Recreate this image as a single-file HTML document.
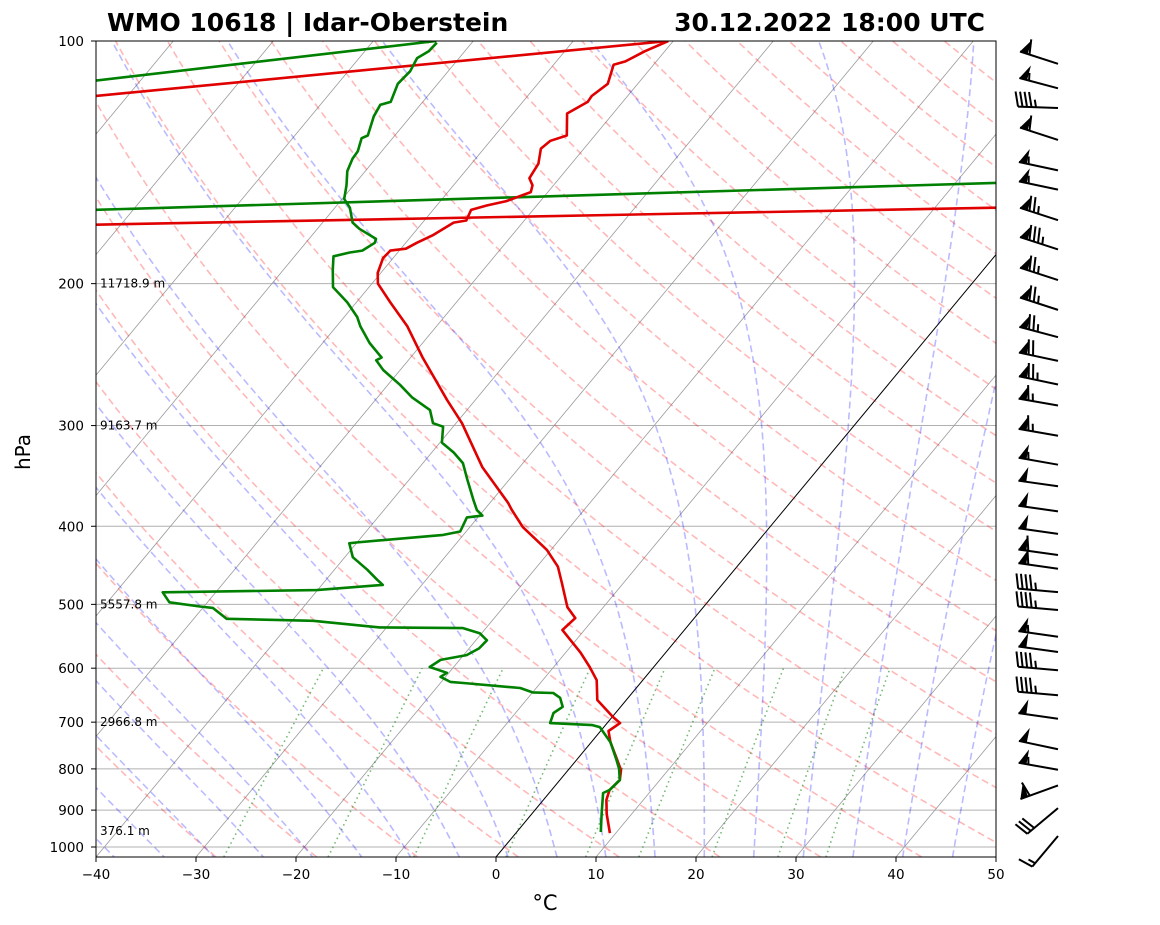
<!DOCTYPE html>
<html><head><meta charset="utf-8"><style>
html,body{margin:0;padding:0;background:#fff;}
svg{display:block;font-family:"DejaVu Sans","Liberation Sans",sans-serif;}
</style></head><body>
<svg id="chart" width="1160" height="925" viewBox="0 0 1160 925" xmlns="http://www.w3.org/2000/svg">
<defs><clipPath id="pa"><rect x="96" y="41" width="900" height="816"/></clipPath></defs>
<rect width="1160" height="925" fill="#fff"/>
<g id="bg" clip-path="url(#pa)"></g>
<g id="prof" clip-path="url(#pa)"></g>
<rect x="96" y="41" width="900" height="816" fill="none" stroke="#000" stroke-width="1"/>
<g id="axes"></g>
<g id="barbs"></g>
<text x="107" y="31" font-size="25" font-weight="bold">WMO 10618 | Idar-Oberstein</text>
<text x="985" y="31" font-size="25" font-weight="bold" text-anchor="end">30.12.2022 18:00 UTC</text>
<text x="545" y="910" font-size="21" text-anchor="middle">°C</text>
<text x="0" y="0" font-size="20" text-anchor="middle" transform="translate(30,452) rotate(-90)">hPa</text>
</svg>
<script>
const tempP=[961,910,874,850,826,803,773,741,718,702,690,657,621,598,574,538,520,504,471,449,428,401,382,374,338,298,279,247,226,211,200,194,186,182,181,178,174,168,167,162,160,158,154,151,148,142,136,133,131,123,119,117,113,107,106,103,100];
const tempT=[9.4,7.5,6.3,5.8,6.0,5.3,3.7,1.9,0.8,1.3,0.1,-2.9,-4.6,-6.4,-8.5,-12.2,-11.9,-13.6,-16.1,-17.9,-20.4,-24.7,-27.2,-28.2,-33.7,-39.4,-42.8,-48.8,-52.9,-56.6,-59.4,-60.3,-61.0,-60.9,-59.5,-58.9,-57.9,-56.9,-55.8,-56.2,-55.0,-53.4,-51.7,-52.1,-53.0,-53.3,-54.3,-54.0,-52.8,-54.6,-53.5,-53.6,-53.0,-54.0,-53.1,-52.0,-50.5];
const dewP=[958,907,857,850,826,800,780,741,710,706,702,682,670,653,644,643,635,626,624,615,608,598,586,578,567,554,543,535,534,524,521,505,503,497,483,480,473,466,453,437,420,419,410,406,390,388,382,371,350,334,324,315,301,298,287,277,267,256,249,247,237,226,220,211,202,192,185,183,182,178,176,171,168,161,157,151,145,140,137,132,131,124,120,119,113,109,105,103,100.5];
const dewT=[8.4,6.9,5.4,5.8,6.0,5.0,4.0,1.9,-0.4,-1.3,-5.7,-6.2,-5.8,-6.8,-7.9,-10.0,-11.6,-17.7,-19.1,-20.5,-20.2,-22.4,-21.9,-19.7,-19.0,-18.9,-20.2,-22.3,-30.7,-37.9,-46.7,-49.0,-50.4,-53.8,-55.3,-40.1,-33.9,-34.9,-36.7,-39.2,-40.7,-40.1,-32.0,-30.6,-31.1,-29.7,-30.7,-31.9,-34.2,-36.0,-37.8,-39.8,-41.0,-42.3,-43.7,-46.5,-48.8,-51.7,-53.2,-52.9,-55.3,-57.6,-58.7,-60.9,-63.6,-65.1,-66.1,-64.8,-63.7,-63.1,-63.3,-65.8,-67.0,-68.5,-69.8,-70.7,-71.8,-72.3,-72.4,-73.1,-72.7,-73.7,-74.0,-73.2,-74.0,-73.8,-74.2,-73.6,-73.5];
const extraLines=[
 {c:'#e00000',p:[117,100],t:[-103.2,-50.5]},
 {c:'#008000',p:[112,100],t:[-104.5,-73.7]},
 {c:'#008000',p:[162,150],t:[-93.8,-6.0]},
 {c:'#e00000',p:[169,161],t:[-92.5,-3.9]}];
const pTicks=[100,200,300,400,500,600,700,800,900,1000];
const tTicks=[-40,-30,-20,-10,0,10,20,30,40,50];
const heightP=[200,300,500,700,955];
const heightLbl=['11718.9 m','9163.7 m','5557.8 m','2966.8 m','376.1 m'];
const barbP=[103,111,120,128,141,149,161,175,191,208,226,243,260,277,302,328,350,376,401,426,443,476,501,538,562,595,639,680,737,784,862,947,1038];
const barbSpd=[60,55,45,60,55,55,75,85,75,75,75,70,75,65,65,55,50,50,50,60,60,45,45,55,50,45,45,50,50,55,60,30,15];
const barbDir=[288,285,272,288,282,282,288,288,288,288,285,282,282,280,280,280,278,278,278,278,278,275,275,278,278,275,275,278,282,280,250,230,220];

const NS='http://www.w3.org/2000/svg';
const P0=41,PH=806,BOT=857;
function yP(p){return P0+PH*Math.log10(p/100);}
function xT(t,p){return 96+(t+40)*10+(BOT-yP(p))*0.83;}
function mk(tag,attrs,parent){const e=document.createElementNS(NS,tag);for(const k in attrs)e.setAttribute(k,attrs[k]);parent.appendChild(e);return e;}
const bg=document.getElementById('bg'),profG=document.getElementById('prof'),axes=document.getElementById('axes'),barbs=document.getElementById('barbs');
const PBOT=100*Math.pow(10,(BOT-P0)/PH);
function pts(fn,pa,pb,n){let s=[];for(let i=0;i<=n;i++){const lp=Math.log(pa)+(Math.log(pb)-Math.log(pa))*i/n;const p=Math.exp(lp);const t=fn(p);s.push(xT(t,p).toFixed(1)+','+yP(p).toFixed(1));}return s.join(' ');}
pTicks.forEach(p=>{const l=mk('line',{x1:96,x2:996,y1:yP(p),y2:yP(p),stroke:'#b0b0b0','stroke-width':1},bg);

});
for(let t=-140;t<=50;t+=10){const l=mk('line',{x1:xT(t,PBOT),y1:BOT,x2:xT(t,100),y2:41,stroke:t===0?'#000':'#9a9a9a','stroke-width':t===0?1:0.8},bg);

}
for(let th=-30;th<=240;th+=10){const K=th+273.15;const pl=mk('polyline',{points:pts(p=>K*Math.pow(p/1000,0.2857)-273.15,PBOT,100,40),fill:'none',stroke:'#ff0000','stroke-opacity':0.28,'stroke-width':1.6,'stroke-dasharray':'7,4'},bg);

}
function es(tc){return 6.112*Math.exp(17.67*tc/(tc+243.5));}
function dTdlnp(T,p){const Rd=287.04,Cp=1005.7,Lv=2.501e6,eps=0.622;const e=es(T-273.15);const rs=1.8*eps*e/(p-e);return (Rd*T+Lv*rs)/(Cp+Lv*Lv*rs*eps/(Rd*T*T));}
function moist(t0){const step=0.01;
 let T=t0+273.15,lp=Math.log(1000);const up=[];
 while(lp>Math.log(100)-step){up.push([Math.exp(lp),T-273.15]);const p=Math.exp(lp);const k1=dTdlnp(T,p),k2=dTdlnp(T-step*k1/2,Math.exp(lp-step/2)),k3=dTdlnp(T-step*k2/2,Math.exp(lp-step/2)),k4=dTdlnp(T-step*k3,Math.exp(lp-step));T-=step*(k1+2*k2+2*k3+k4)/6;lp-=step;}
 T=t0+273.15;lp=Math.log(1000);const dn=[];
 while(lp<Math.log(1060)){lp+=step;const p=Math.exp(lp);T+=step*dTdlnp(T,p);dn.push([p,T-273.15]);}
 return dn.reverse().concat(up);}
for(let t0=-40;t0<=50;t0+=5){const arr=moist(t0);const pl=mk('polyline',{points:arr.map(a=>xT(a[1],a[0]).toFixed(1)+','+yP(a[0]).toFixed(1)).join(' '),fill:'none',stroke:'#0000ff','stroke-opacity':0.27,'stroke-width':1.6,'stroke-dasharray':'7,4'},bg);

}
[0.0004,0.001,0.002,0.004,0.007,0.01,0.016,0.024,0.032].forEach(w=>{const fn=p=>{const e=w*p/(0.622+w);const l=Math.log(e/6.112);return 243.5*l/(17.67-l);};
const pl=mk('polyline',{points:pts(fn,PBOT,600,20),fill:'none',stroke:'#008000','stroke-opacity':0.55,'stroke-width':1.6,'stroke-dasharray':'1.5,3.5'},bg);

});
extraLines.forEach(L=>{const l=mk('line',{x1:xT(L.t[0],L.p[0]),y1:yP(L.p[0]),x2:xT(L.t[1],L.p[1]),y2:yP(L.p[1]),stroke:L.c,'stroke-width':2.6},profG);

});
function drawProfile(P,T,c,name){const pl=mk('polyline',{points:P.map((p,i)=>xT(T[i],p).toFixed(1)+','+yP(p).toFixed(1)).join(' '),fill:'none',stroke:c,'stroke-width':2.6,'stroke-linejoin':'round'},profG);

}
drawProfile(tempP,tempT,'#e00000','temperature-profile');
drawProfile(dewP,dewT,'#008000','dewpoint-profile');
pTicks.forEach(p=>{const y=yP(p);mk('line',{x1:91,x2:96,y1:y,y2:y,stroke:'#000'},axes);
const t=mk('text',{x:84,y:y+5,'font-size':13.5,'text-anchor':'end'},axes);t.textContent=p;

});
tTicks.forEach(v=>{const x=96+(v+40)*10;mk('line',{x1:x,x2:x,y1:857,y2:862,stroke:'#000'},axes);
const t=mk('text',{x:x,y:879,'font-size':13.5,'text-anchor':'middle'},axes);t.textContent=String(v).replace('-','\u2212');

});
heightP.forEach((p,i)=>{const t=mk('text',{x:100,y:yP(p)+4,'font-size':12},axes);t.textContent=heightLbl[i];

});
barbP.forEach((p,i)=>{const g=mk('g',{},barbs);


const d=barbDir[i]*Math.PI/180;const dx=Math.sin(d),dy=-Math.cos(d);const px=-dy,py=dx;
const L=40;const ox=1058,oy=yP(p)-dy*L*0.85+2;const ex=ox+dx*L,ey=oy+dy*L;
mk('line',{x1:ox,y1:oy,x2:ex,y2:ey,stroke:'#000','stroke-width':2},g);
let s=barbSpd[i];let pos=0;
while(s>=50){const b1x=ex-dx*pos,b1y=ey-dy*pos,b2x=ex-dx*(pos+8),b2y=ey-dy*(pos+8);
mk('polygon',{points:b1x+','+b1y+' '+b2x+','+b2y+' '+(b2x+px*15)+','+(b2y+py*15),fill:'#000'},g);pos+=10;s-=50;}
while(s>=10){const bx=ex-dx*pos,by=ey-dy*pos;mk('line',{x1:bx,y1:by,x2:bx+px*15+dx*3,y2:by+py*15+dy*3,stroke:'#000','stroke-width':2},g);pos+=4.5;s-=10;}
if(s>=5){if(pos===0)pos=4.5;const bx=ex-dx*pos,by=ey-dy*pos;mk('line',{x1:bx,y1:by,x2:bx+px*7.5+dx*1.5,y2:by+py*7.5+dy*1.5,stroke:'#000','stroke-width':2},g);}
});
</script>
</body></html>
